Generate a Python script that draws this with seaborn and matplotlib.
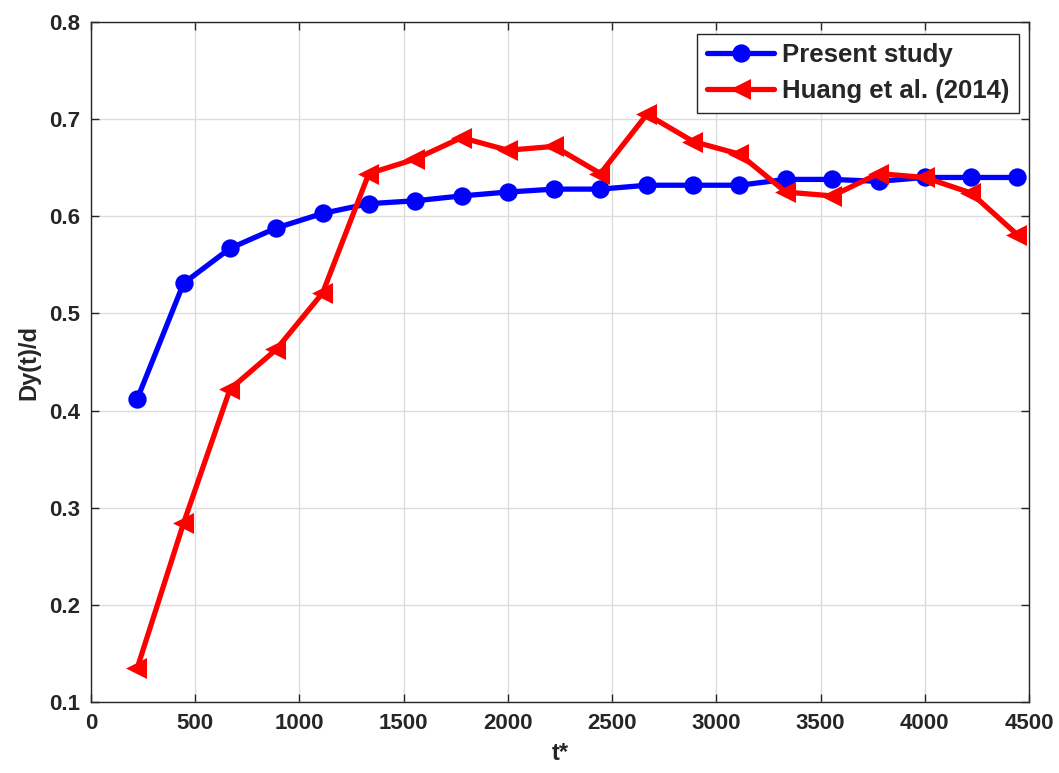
import numpy as np
import pandas as pd
import matplotlib
matplotlib.use("Agg")
import matplotlib.pyplot as plt
import seaborn as sns

# Non-dimensional time t*
t_star = [222, 444, 667, 889, 1111, 1333, 1556, 1778, 2000, 2222,
          2444, 2667, 2889, 3111, 3333, 3556, 3778, 4000, 4222, 4444]

# Dy(t)/d, present simulations
present_study = [0.412, 0.531, 0.567, 0.588, 0.603, 0.613, 0.616, 0.621, 0.625, 0.628,
                 0.628, 0.632, 0.632, 0.632, 0.638, 0.638, 0.636, 0.640, 0.640, 0.640]

# Dy(t)/d, Huang et al. (2014)
huang_2014 = [0.135, 0.284, 0.422, 0.463, 0.521, 0.644, 0.659, 0.681, 0.668, 0.672,
              0.644, 0.705, 0.677, 0.664, 0.625, 0.621, 0.644, 0.640, 0.624, 0.581]

series_names = ["Present study", "Huang et al. (2014)"]
x_ticks = [0, 500, 1000, 1500, 2000, 2500, 3000, 3500, 4000, 4500]
y_ticks = [0.1, 0.2, 0.3, 0.4, 0.5, 0.6, 0.7, 0.8]

df = pd.DataFrame({
    "t": t_star * 2,
    "dy": present_study + huang_2014,
    "series": [series_names[0]] * len(t_star) + [series_names[1]] * len(t_star),
})

sns.set_theme(style="white")
plt.rcParams["font.family"] = ["Liberation Sans", "DejaVu Sans"]
plt.rcParams["font.weight"] = "bold"

fig = plt.figure(figsize=(10.59, 7.73), dpi=100)
ax = fig.add_axes([0.0859, 0.0918, 0.9717 - 0.0859, 0.9715 - 0.0918])

sns.lineplot(
    data=df, x="t", y="dy", hue="series", style="series",
    palette={series_names[0]: "#0000ff", series_names[1]: "#ff0000"},
    markers={series_names[0]: "o", series_names[1]: "<"},
    dashes=False, linewidth=3.8, markersize=11, markeredgewidth=2.2,
    ax=ax,
)
for ln in ax.lines:
    ln.set_markeredgecolor(ln.get_color())
    ln.set_markerfacecolor(ln.get_color())

ax.set_xlim(0, 4500)
ax.set_ylim(0.1, 0.8)
ax.set_xticks(x_ticks)
ax.set_yticks(y_ticks)
ax.set_xticklabels([str(v) for v in x_ticks], fontsize=16, fontweight="bold", color="#262626")
ax.set_yticklabels([f"{v:.1f}" for v in y_ticks], fontsize=16, fontweight="bold", color="#262626")
ax.set_xlabel("t*", fontsize=17, fontweight="bold", color="#262626", labelpad=6)
ax.set_ylabel("Dy(t)/d", fontsize=17, fontweight="bold", color="#262626", labelpad=6)

ax.grid(True, color="#dcdcdc", linewidth=1.0)
ax.set_axisbelow(True)
for sp in ax.spines.values():
    sp.set_visible(True)
    sp.set_color("#262626")
    sp.set_linewidth(1.0)
ax.tick_params(direction="in", length=6, width=1, color="#262626",
               top=True, right=True, bottom=True, left=True, pad=8)

leg = ax.legend(loc="upper right", frameon=True, fancybox=False,
                edgecolor="#262626", framealpha=1.0, handlelength=2.6,
                borderaxespad=0.4, labelspacing=0.45, borderpad=0.38,
                handletextpad=0.3, prop={"weight": "bold", "size": 18.5},
                bbox_to_anchor=(1.0, 0.998))
leg.get_frame().set_linewidth(1.0)
for h in leg.get_lines():
    h.set_markeredgecolor(h.get_color())
    h.set_markerfacecolor(h.get_color())

fig.savefig("out.png", dpi=100, facecolor="white")
